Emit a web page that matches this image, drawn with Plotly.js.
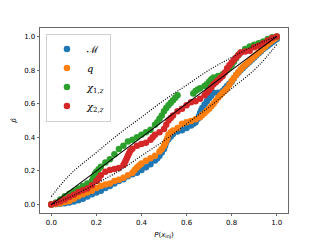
<!DOCTYPE html>
<html>
<head>
<meta charset="utf-8">
<script src="https://cdn.plot.ly/plotly-3.0.1.min.js"></script>
<style>html,body{margin:0;padding:0;background:#fff;}#chart{width:320px;height:240px;}</style>
</head>
<body>
<div id="chart"></div>
<script>
// Series names
var seriesNames = ["ℳ", "<i>q</i>", "<i>χ</i><sub>1,<i>z</i></sub>", "<i>χ</i><sub>2,<i>z</i></sub>"];
var seriesColors = ["#1f77b4", "#ff7f0e", "#2ca02c", "#d62728"];

// M (blue)
var mX = [0.00,0.02,0.04,0.06,0.08,0.10,0.12,0.14,0.16,0.18,0.20,0.22,0.24,0.26,0.28,0.30,0.32,0.34,0.36,0.38,0.40,0.42,0.44,0.46,0.47,0.48,0.49,0.50,0.505,0.51,0.52,0.53,0.54,0.56,0.58,0.60,0.62,0.63,0.64,0.65,0.655,0.66,0.665,0.67,0.68,0.69,0.70,0.71,0.72,0.74,0.76,0.77,0.78,0.79,0.80,0.81,0.82,0.83,0.84,0.85,0.86,0.87,0.88,0.89,0.90,0.91,0.92,0.93,0.94,0.95,0.96,0.97,0.98,0.99,1.00];
var mY = [0.000,0.003,0.005,0.008,0.012,0.018,0.026,0.035,0.048,0.062,0.072,0.082,0.098,0.110,0.125,0.140,0.150,0.168,0.180,0.190,0.205,0.222,0.240,0.262,0.275,0.290,0.310,0.330,0.350,0.370,0.390,0.405,0.420,0.435,0.442,0.455,0.470,0.480,0.490,0.510,0.525,0.545,0.560,0.575,0.595,0.615,0.632,0.648,0.665,0.665,0.675,0.690,0.705,0.718,0.730,0.750,0.770,0.785,0.800,0.812,0.825,0.838,0.850,0.862,0.875,0.888,0.900,0.912,0.925,0.935,0.945,0.955,0.965,0.975,0.985];

// q (orange)
var qX = [0.00,0.02,0.04,0.06,0.08,0.10,0.12,0.14,0.16,0.18,0.20,0.22,0.24,0.26,0.28,0.30,0.32,0.34,0.36,0.37,0.38,0.39,0.40,0.42,0.44,0.46,0.48,0.49,0.50,0.505,0.51,0.515,0.52,0.53,0.54,0.56,0.58,0.60,0.62,0.64,0.66,0.67,0.68,0.69,0.70,0.71,0.72,0.73,0.74,0.75,0.76,0.77,0.78,0.79,0.80,0.81,0.82,0.83,0.84,0.85,0.86,0.87,0.88,0.89,0.90,0.91,0.92,0.93,0.94,0.95,0.96,0.97,0.98,0.99,1.00];
var qY = [0.000,0.003,0.008,0.015,0.022,0.035,0.050,0.062,0.072,0.082,0.098,0.110,0.120,0.125,0.140,0.148,0.160,0.175,0.190,0.205,0.220,0.232,0.245,0.260,0.275,0.290,0.315,0.330,0.350,0.365,0.380,0.395,0.415,0.430,0.440,0.456,0.480,0.490,0.497,0.507,0.520,0.532,0.545,0.558,0.570,0.585,0.600,0.618,0.635,0.650,0.665,0.678,0.690,0.712,0.735,0.752,0.770,0.788,0.805,0.818,0.830,0.842,0.855,0.868,0.880,0.892,0.905,0.918,0.930,0.942,0.955,0.965,0.975,0.985,0.995];

// chi_1z (green)
var c1X = [0.00,0.02,0.04,0.06,0.08,0.10,0.12,0.14,0.16,0.18,0.185,0.19,0.195,0.20,0.21,0.22,0.24,0.26,0.28,0.30,0.32,0.34,0.36,0.38,0.40,0.42,0.44,0.46,0.47,0.48,0.49,0.50,0.51,0.52,0.53,0.54,0.55,0.56,0.63,0.64,0.65,0.66,0.68,0.69,0.70,0.71,0.72,0.74,0.76,0.78,0.79,0.80,0.81,0.82,0.83,0.84,0.86,0.88,0.90,0.92,0.94,0.96,0.98,1.00];
var c1Y = [0.000,0.012,0.030,0.050,0.065,0.080,0.095,0.110,0.125,0.140,0.155,0.170,0.185,0.195,0.210,0.225,0.250,0.270,0.300,0.330,0.350,0.375,0.385,0.400,0.415,0.430,0.445,0.475,0.490,0.510,0.530,0.555,0.575,0.590,0.605,0.620,0.635,0.650,0.660,0.675,0.685,0.692,0.705,0.715,0.730,0.745,0.755,0.765,0.775,0.800,0.815,0.830,0.850,0.870,0.890,0.905,0.925,0.940,0.950,0.960,0.970,0.985,0.995,1.000];

// chi_2z (red)
var c2X = [0.00,0.02,0.04,0.06,0.08,0.10,0.12,0.14,0.16,0.18,0.20,0.21,0.22,0.24,0.26,0.28,0.30,0.32,0.325,0.33,0.335,0.34,0.345,0.35,0.36,0.38,0.40,0.42,0.44,0.45,0.46,0.48,0.50,0.51,0.52,0.53,0.54,0.56,0.58,0.60,0.62,0.64,0.66,0.68,0.69,0.70,0.71,0.72,0.73,0.74,0.75,0.76,0.77,0.78,0.79,0.80,0.81,0.82,0.83,0.84,0.86,0.88,0.90,0.92,0.94,0.96,0.98,1.00];
var c2Y = [0.000,0.008,0.018,0.030,0.045,0.058,0.075,0.085,0.095,0.115,0.140,0.155,0.175,0.195,0.205,0.212,0.217,0.235,0.248,0.260,0.275,0.290,0.305,0.318,0.332,0.350,0.360,0.368,0.385,0.400,0.415,0.430,0.450,0.475,0.500,0.515,0.530,0.555,0.570,0.590,0.608,0.615,0.630,0.650,0.665,0.680,0.697,0.715,0.728,0.740,0.752,0.765,0.785,0.810,0.828,0.845,0.860,0.875,0.890,0.905,0.910,0.915,0.935,0.945,0.960,0.975,0.990,1.000];

// Confidence band (dotted)
var bandX = [0.00,0.05,0.10,0.20,0.30,0.40,0.50,0.60,0.70,0.80,0.90,0.95,1.00];
var bandUpper = [0.048,0.130,0.200,0.310,0.420,0.520,0.620,0.710,0.800,0.875,0.945,0.975,1.000];
var bandLower = [0.000,0.025,0.055,0.125,0.200,0.290,0.380,0.480,0.580,0.690,0.800,0.870,0.952];

// Diagonal
var diagX = [0, 1];
var diagY = [0, 1];

var xTicks = [0, 0.2, 0.4, 0.6, 0.8, 1.0];
var xTickText = ["0.0", "0.2", "0.4", "0.6", "0.8", "1.0"];
var yTicks = [0, 0.2, 0.4, 0.6, 0.8, 1.0];
var yTickText = ["0.0", "0.2", "0.4", "0.6", "0.8", "1.0"];

var xs = [mX, qX, c1X, c2X];
var ys = [mY, qY, c1Y, c2Y];
var traces = [];
for (var i = 0; i < 4; i++) {
  traces.push({
    x: xs[i], y: ys[i], type: "scatter", mode: "markers", name: seriesNames[i],
    marker: {color: seriesColors[i], size: 6.5, line: {width: 0}}
  });
}
traces.push({x: diagX, y: diagY, type: "scatter", mode: "lines", showlegend: false, line: {color: "black", width: 1.1}, hoverinfo: "skip"});
traces.push({x: bandX, y: bandUpper, type: "scatter", mode: "lines", showlegend: false, line: {color: "#000", width: 1.2, dash: "1px,1.5px", shape: "spline"}, hoverinfo: "skip"});
traces.push({x: bandX, y: bandLower, type: "scatter", mode: "lines", showlegend: false, line: {color: "#000", width: 1.2, dash: "1px,1.5px", shape: "spline"}, hoverinfo: "skip"});

var axisCommon = {
  showgrid: false, zeroline: false, showline: true, mirror: true,
  linecolor: "#444", linewidth: 0.8, ticks: "outside", ticklen: 2.5, tickwidth: 0.8, tickcolor: "#444",
  tickfont: {family: "DejaVu Sans", size: 7, color: "#000"}
};

var layout = {
  width: 320, height: 240,
  margin: {l: 40, r: 32, t: 28, b: 27, pad: 0},
  paper_bgcolor: "#fff", plot_bgcolor: "#fff",
  showlegend: true,
  legend: {
    x: 0.024, y: 0.97, xanchor: "left", yanchor: "top",
    bgcolor: "rgba(255,255,255,0.8)", bordercolor: "#d0d0d0", borderwidth: 1,
    font: {family: "DejaVu Serif", size: 10, color: "#000"},
    tracegroupgap: 0, itemwidth: 30
  },
  xaxis: Object.assign({}, axisCommon, {
    range: [-0.05, 1.05], tickvals: xTicks, ticktext: xTickText,
    title: {text: "<i>P</i>(<i>x</i><sub>inj</sub>)", font: {family: "DejaVu Sans", size: 7, color: "#000"}}
  }),
  yaxis: Object.assign({}, axisCommon, {
    range: [-0.05, 1.05], tickvals: yTicks, ticktext: yTickText,
    title: {text: "<i>p̂</i>", font: {family: "DejaVu Sans", size: 7, color: "#000"}}
  })
};

Plotly.newPlot("chart", traces, layout, {staticPlot: true, displayModeBar: false});
</script>
</body>
</html>
